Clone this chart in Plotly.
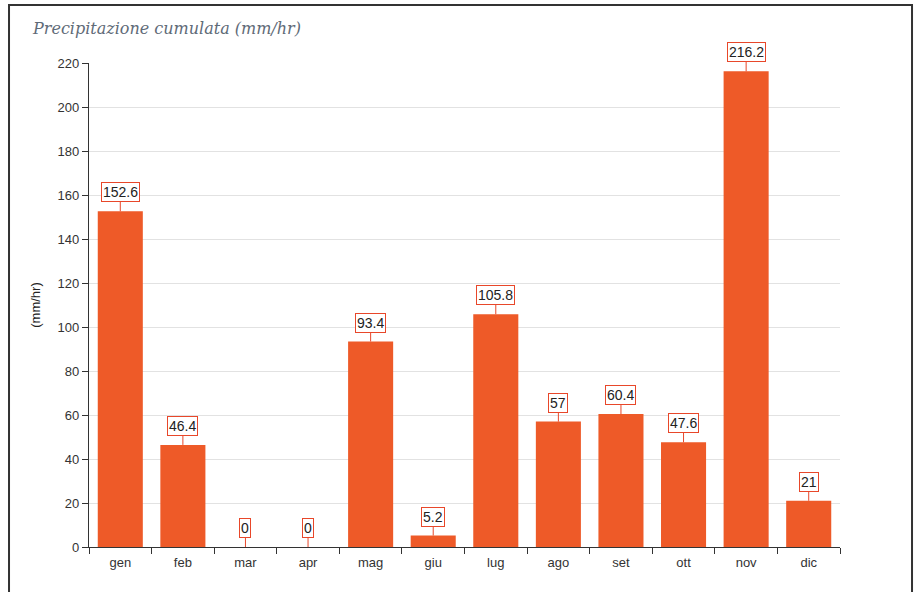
import plotly.graph_objects as go

months = ["gen", "feb", "mar", "apr", "mag", "giu", "lug", "ago", "set", "ott", "nov", "dic"]
precip = [152.6, 46.4, 0, 0, 93.4, 5.2, 105.8, 57, 60.4, 47.6, 216.2, 21]
labels = ["152.6", "46.4", "0", "0", "93.4", "5.2", "105.8", "57", "60.4", "47.6", "216.2", "21"]
yticks = list(range(0, 221, 20))

BAR = "#EE5A28"
fig = go.Figure()
fig.add_trace(go.Bar(x=months, y=precip, marker=dict(color=BAR, line=dict(width=0)),
                     hoverinfo="x+y"))

for m, v, t in zip(months, precip, labels):
    fig.add_annotation(x=m, y=v, text=t, showarrow=True, arrowhead=0, arrowwidth=1,
                       arrowcolor="#E8472A", ax=0, ay=-19,
                       bgcolor="white", bordercolor="#E8472A", borderwidth=1, borderpad=1,
                       font=dict(family="Arial, Liberation Sans", size=14, color="#222"))

fig.add_annotation(xref="paper", yref="paper", x=-0.078, y=1.072, xanchor="left", yanchor="middle",
                   text="<i>Precipitazione cumulata (mm/hr)</i>", showarrow=False,
                   font=dict(family="DejaVu Serif, serif", size=16, color="#5F6B78"))

fig.add_shape(type="rect", xref="paper", yref="paper", x0=-0.1065, x1=1.0959, y0=-0.2, y1=1.1198,
              line=dict(color="#333", width=2), fillcolor="rgba(0,0,0,0)", layer="below")

fig.update_layout(
    width=920, height=592,
    margin=dict(l=89, r=80, t=63, b=45, autoexpand=False),
    paper_bgcolor="white", plot_bgcolor="white",
    bargap=0.28, showlegend=False,
    font=dict(family="Arial, Liberation Sans", size=13, color="#222"),
)
fig.update_xaxes(showline=True, linecolor="#333", linewidth=1.2, ticks="outside", ticklen=6,
                 tickcolor="#333", tickson="boundaries", showgrid=False, ticklabelstandoff=3,
                 tickfont=dict(size=13, color="#333"), automargin=False)
fig.update_yaxes(range=[0, 220], tickvals=yticks, showline=True, linecolor="#333", linewidth=1.2,
                 ticks="outside", ticklen=6, tickcolor="#333", showgrid=True, gridcolor="#E2E2E2",
                 gridwidth=1, zeroline=False, tickfont=dict(size=13, color="#333"), automargin=False,
                 title=dict(text="(mm/hr)", standoff=14, font=dict(size=13, color="#222")))

fig.write_html("out.html", config={"displayModeBar": False},
               post_script="document.body.style.margin='0px';")
